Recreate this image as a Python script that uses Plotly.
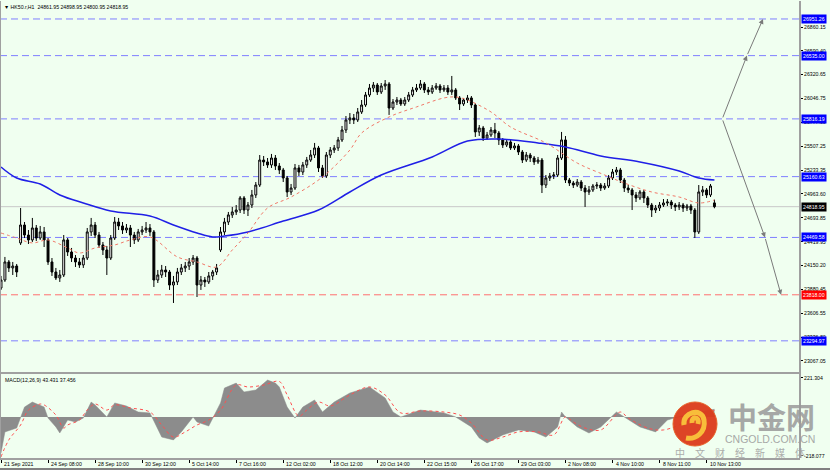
import plotly.graph_objects as go

# ---------------- DATA ----------------
close = [23986, 24191, 24123, 24145, 24077, 24611, 24497, 24441, 24577, 24463,
         24532, 24441, 24191, 24077, 24009, 24043, 24441, 24304, 24236, 24191,
         24157, 24236, 24532, 24611, 24497, 24384, 24327, 24236, 24463, 24645,
         24600, 24554, 24577, 24497, 24441, 24532, 24554, 24577, 24532, 23986,
         24043, 24100, 24077, 23929, 23964, 24077, 24123, 24145, 24191, 24236,
         23929, 23986, 23964, 24032, 24077, 24123, 24532, 24645, 24725, 24759,
         24781, 24918, 24781, 24838, 24952, 25065, 25349, 25327, 25293, 25372,
         25281, 25236, 25145, 24986, 25031, 25259, 25213, 25293, 25349, 25406,
         25486, 25259, 25168, 25406, 25463, 25486, 25577, 25690, 25804, 25827,
         25804, 25895, 25974, 26088, 26167, 26201, 26122, 26190, 26213, 25940,
         26008, 26031, 25986, 26031, 26088, 26145, 26167, 26213, 26145, 26122,
         26167, 26190, 26145, 26167, 26122, 26145, 26054, 25986, 26031, 26054,
         25974, 25668, 25713, 25599, 25634, 25690, 25656, 25577, 25520, 25554,
         25486, 25509, 25440, 25349, 25406, 25372, 25327, 25349, 25065, 25145,
         25168, 25179, 25372, 25577, 25122, 25088, 25065, 25099, 25031, 24986,
         25009, 25054, 25065, 25031, 25054, 25145, 25213, 25236, 25122, 25031,
         25009, 24952, 24918, 24986, 24918, 24838, 24781, 24804, 24838, 24861,
         24872, 24838, 24816, 24838, 24804, 24827, 24781, 24532, 24986, 25009,
         24952, 25054, 24818.95]

high = [24032, 24248, 24213, 24191, 24168, 24804, 24645, 24554, 24691, 24611,
        24600, 24588, 24463, 24236, 24123, 24100, 24497, 24463, 24350, 24270,
        24236, 24270, 24577, 24691, 24645, 24532, 24418, 24373, 24497, 24702,
        24691, 24645, 24622, 24611, 24532, 24566, 24600, 24645, 24622, 24554,
        24100, 24157, 24145, 24100, 24032, 24123, 24168, 24191, 24236, 24270,
        24259, 24032, 24020, 24077, 24100, 24168, 24588, 24691, 24759, 24816,
        24838, 24940, 24940, 24872, 25009, 25099, 25406, 25395, 25372, 25418,
        25406, 25315, 25259, 25168, 25077, 25304, 25293, 25327, 25384, 25463,
        25543, 25509, 25293, 25440, 25497, 25520, 25611, 25736, 25849, 25883,
        25872, 25940, 26031, 26122, 26213, 26235, 26224, 26224, 26258, 26235,
        26042, 26065, 26054, 26065, 26122, 26179, 26213, 26258, 26235, 26179,
        26201, 26224, 26213, 26201, 26201, 26304, 26167, 26076, 26054, 26088,
        26076, 25997, 25747, 25736, 25668, 25724, 25770, 25679, 25599, 25577,
        25577, 25543, 25531, 25463, 25440, 25429, 25395, 25384, 25372, 25179,
        25202, 25213, 25406, 25668, 25622, 25145, 25111, 25133, 25122, 25065,
        25054, 25077, 25099, 25088, 25088, 25179, 25247, 25270, 25259, 25145,
        25065, 25031, 24986, 25009, 25009, 24940, 24861, 24838, 24872, 24906,
        24906, 24895, 24861, 24872, 24861, 24850, 24850, 24804, 25065, 25054,
        25031, 25077, 24898.95]

low = [23873, 23964, 24077, 24043, 24020, 24384, 24463, 24395, 24418, 24429,
       24441, 24361, 24157, 24032, 23986, 23964, 24020, 24259, 24191, 24134,
       24123, 24123, 24213, 24486, 24463, 24350, 24270, 24043, 24213, 24441,
       24554, 24509, 24520, 24361, 24395, 24418, 24497, 24520, 24486, 23907,
       23952, 24009, 24020, 23873, 23725, 23929, 24043, 24077, 24100, 24157,
       23793, 23873, 23907, 23941, 23986, 24043, 24304, 24497, 24611, 24691,
       24725, 24747, 24736, 24713, 24804, 24918, 25043, 25281, 25259, 25259,
       25236, 25190, 25099, 24929, 24952, 25009, 25168, 25179, 25259, 25327,
       25372, 25213, 25145, 25145, 25372, 25429, 25452, 25554, 25656, 25758,
       25758, 25781, 25872, 25952, 26065, 26122, 26088, 26099, 26145, 25861,
       25917, 25974, 25963, 25963, 26008, 26065, 26122, 26145, 26110, 26088,
       26099, 26145, 26110, 26122, 26088, 26088, 26031, 25917, 25963, 25997,
       25940, 25611, 25622, 25565, 25577, 25611, 25599, 25520, 25486, 25497,
       25463, 25463, 25406, 25315, 25327, 25327, 25293, 25304, 24974, 25031,
       25111, 25133, 25156, 25349, 25088, 25054, 25031, 25043, 24997, 24816,
       24952, 24986, 25020, 24997, 25009, 25031, 25122, 25179, 25088, 24986,
       24974, 24781, 24872, 24895, 24861, 24804, 24702, 24747, 24770, 24816,
       24827, 24793, 24770, 24781, 24759, 24770, 24736, 24463, 24509, 24940,
       24918, 24929, 24800.95]

# opening prices that gap away from the previous close (session breaks)
gap_open = {0: 23895, 5: 24407, 56: 24327, 182: 24861.95}

# moving averages (read at sampled bars)
ma_blue_bar = [0, 4, 10, 15, 21, 28, 38, 44, 50, 54, 57, 63, 72, 81, 89, 97, 110,
               119, 127, 137, 144, 153, 163, 173, 178, 182]
ma_blue = [25270, 25145, 25077, 24952, 24861, 24770, 24713, 24611, 24520, 24475,
           24486, 24532, 24656, 24781, 24986, 25179, 25384, 25565, 25588, 25543,
           25497, 25395, 25327, 25224, 25145, 25122]

ma_red_bar = [0, 4, 8, 12, 17, 20, 24, 29, 33, 38, 45, 50, 55, 59, 63, 68, 74, 82,
              89, 92, 99, 106, 113, 116, 119, 125, 130, 139, 147, 154, 159, 166,
              173, 178, 182]
ma_red = [24520, 24463, 24407, 24441, 24350, 24293, 24350, 24384, 24441, 24475,
          24248, 24191, 24134, 24327, 24520, 24804, 24929, 25156, 25463, 25656,
          25838, 25952, 26054, 26065, 26031, 25895, 25724, 25543, 25315, 25179,
          25088, 24986, 24929, 24861, 24895]

# MACD(12,26,9)
macd_bar = [0, 1, 4, 5, 6, 8, 10, 11, 12, 14, 15, 17, 19, 21, 23, 24, 27, 29, 32, 35,
            38, 40, 41, 44, 46, 49, 50, 53, 56, 57, 60, 62, 65, 68, 70, 71, 73, 75, 77, 80,
            82, 85, 89, 94, 98, 100, 102, 107, 113, 116, 118, 120, 122, 124, 128, 132, 136, 139, 142, 143,
            144, 147, 150, 153, 157, 159, 163, 167, 170, 176, 178, 182]
macd_main = [-203, -84, -62, 0, 56, 84, 68, 56, -6, -56, -90, -17, -28, -6, 84, 68, 0, 79, 62, 28,
             23, -62, -113, -129, -84, 0, -28, -51, 79, 163, 191, 141, 152, 208, 191, 169, 56, -6, 56, 96,
             28, 84, 135, 169, 107, 28, 0, 39, 23, 0, -28, -56, -118, -146, -101, -73, -84, -113, -56, 28,
             0, -56, -90, -56, 28, 0, -56, -84, -17, 20, 30, 43.431]
sig_bar = [0, 2, 5, 7, 10, 11, 14, 16, 17, 20, 22, 24, 27, 29, 33, 38, 41, 44, 47, 50,
           53, 56, 60, 63, 67, 71, 73, 76, 78, 81, 84, 89, 94, 98, 102, 107, 113, 117, 120, 124,
           128, 132, 137, 141, 144, 146, 149, 153, 158, 160, 165, 169, 176, 182]
macd_signal = [-225, -129, -45, 39, 73, 68, 11, -62, -45, -17, 39, 73, 39, 68, 51, 28, -45, -113, -84, -45,
               -17, 39, 180, 169, 180, 200, 124, 5, 39, 84, 62, 124, 169, 124, 23, 34, 28, 11, -34, -129,
               -113, -84, -84, -101, 0, -28, -62, -73, 28, -6, -62, -73, -17, 37.456]

# horizontal levels
levels_blue = [26951.26, 26535.00, 25816.19, 25160.63, 24469.58, 23294.97]
level_red = 23818.00
last_price = 24818.95

# projection paths (bar, price)
proj_up_bar = [184, 190.3, 194.4]
proj_up_price = [25816.19, 26535.00, 26951.26]
proj_dn_bar = [184, 194.9, 199.0]
proj_dn_price = [25816.19, 24469.58, 23818.00]

price_ticks = [26860.15, 26590.40, 26320.65, 26046.75, 25777.00, 25507.25, 25233.35,
               24963.60, 24693.85, 24419.95, 24150.20, 23880.45, 23606.55, 23336.80, 23067.05]
macd_ticks = [221.304, -218.077]
time_labels = ["21 Sep 2021", "24 Sep 08:00", "28 Sep 10:00", "30 Sep 12:00", "5 Oct 14:00",
               "7 Oct 16:00", "12 Oct 02:00", "18 Oct 12:00", "20 Oct 14:00", "22 Oct 15:00",
               "26 Oct 17:00", "29 Oct 03:00", "2 Nov 08:00", "4 Nov 10:00", "8 Nov 11:00",
               "10 Nov 13:00"]
label_step = 12

# ---------------- FIGURE ----------------
bars = list(range(len(close)))
opens = [gap_open.get(i, close[i - 1] if i > 0 else close[0]) for i in bars]

BG = '#f0fff0'
FONT = 'Liberation Sans, Arial, sans-serif'
FS = 5.2
XR = [-0.255, 203.83]

fig = go.Figure()

fig.add_trace(go.Scatter(x=ma_blue_bar, y=ma_blue, mode='lines', line=dict(color='#1f1fe6', width=1.5, shape='spline'),
                         xaxis='x', yaxis='y', hoverinfo='skip'))
fig.add_trace(go.Scatter(x=ma_red_bar, y=ma_red, mode='lines', line=dict(color='#f07868', width=1, dash='dot', shape='spline'),
                         xaxis='x', yaxis='y', hoverinfo='skip'))
fig.add_trace(go.Candlestick(x=bars, open=opens, high=high, low=low, close=close,
                             increasing=dict(line=dict(color='#000000', width=1), fillcolor='#ffffff'),
                             decreasing=dict(line=dict(color='#000000', width=1), fillcolor='#000000'),
                             whiskerwidth=0, xaxis='x', yaxis='y'))

fig.add_trace(go.Scatter(x=macd_bar, y=macd_main, mode='lines', fill='tozeroy', fillcolor='#8c8c8c',
                         line=dict(color='#8c8c8c', width=0.5), xaxis='x2', yaxis='y2', hoverinfo='skip'))
fig.add_trace(go.Scatter(x=sig_bar, y=macd_signal, mode='lines', line=dict(color='#ff5050', width=1, dash='dot', shape='spline'),
                         xaxis='x2', yaxis='y2', hoverinfo='skip'))

shapes = []
for lv in levels_blue:
    shapes.append(dict(type='line', xref='paper', yref='y', x0=0, x1=1, y0=lv, y1=lv,
                       line=dict(color='#7f7fff', width=1, dash='7px,4px'), layer='below'))
shapes.append(dict(type='line', xref='paper', yref='y', x0=0, x1=1, y0=level_red, y1=level_red,
                   line=dict(color='#ff7070', width=1, dash='7px,4px'), layer='below'))
shapes.append(dict(type='line', xref='paper', yref='y', x0=0, x1=1, y0=last_price, y1=last_price,
                   line=dict(color='#c8c8c8', width=1), layer='below'))

# frame lines (plot area spans 0..800 px wide, 1..458 px tall)
def px(xp):
    return xp / 800.0

def py(yp):
    return (458.0 - yp) / 457.0

shapes.append(dict(type='line', xref='paper', yref='paper', x0=0, x1=1, y0=py(373), y1=py(373),
                   line=dict(color='#a0a0a0', width=2)))
shapes.append(dict(type='line', xref='paper', yref='paper', x0=px(0.5), x1=px(0.5), y0=0, y1=1,
                   line=dict(color='#a0a0a0', width=1)))
shapes.append(dict(type='line', xref='paper', yref='paper', x0=1, x1=1, y0=0, y1=1,
                   line=dict(color='#a0a0a0', width=2)))
shapes.append(dict(type='line', xref='paper', yref='paper', x0=0, x1=1.0375, y0=py(469), y1=py(469),
                   line=dict(color='#808080', width=2)))

# watermark logo
cx, cy, r = 695, 424, 22
shapes.append(dict(type='circle', xref='paper', yref='paper', x0=px(cx - r), x1=px(cx + r),
                   y0=py(cy + r), y1=py(cy - r), fillcolor='#dc3b1c', line=dict(color='#e85a20', width=1),
                   opacity=0.95))
def P(dx, dy):
    return f"{px(cx + dx):.5f},{py(cy + dy):.5f}"
swirl = (f"M {P(-11, 1)} C {P(-13, -12)} {P(7, -17)} {P(9, -4)} C {P(11, 8)} {P(1, 16)} {P(-9, 14)} "
         f"M {P(-3, -1)} C {P(-4, -8)} {P(5, -8)} {P(3, 0)}")
shapes.append(dict(type='path', xref='paper', yref='paper', path=swirl,
                   line=dict(color='#f8bd3a', width=5)))

annotations = []
# chart title
annotations.append(dict(xref='paper', yref='paper', x=px(2), y=py(2), xanchor='left', yanchor='top',
                        text='▼ HK50.r,H1  24861.95 24898.95 24800.95 24818.95', showarrow=False,
                        font=dict(family=FONT, size=FS, color='black')))
annotations.append(dict(xref='paper', yref='paper', x=px(3), y=py(375), xanchor='left', yanchor='top',
                        text='MACD(12,26,9) 43.431 37.456', showarrow=False,
                        font=dict(family=FONT, size=FS, color='black')))
# time labels
for k, lab in enumerate(time_labels):
    annotations.append(dict(xref='x2', yref='paper', x=k * label_step, y=py(459), xanchor='left', yanchor='top',
                            xshift=1, text=lab, showarrow=False, font=dict(family=FONT, size=FS, color='black')))
# level boxes on the price scale
for lv in levels_blue:
    annotations.append(dict(xref='paper', yref='y', x=1, y=lv, xanchor='left', yanchor='middle', xshift=1,
                            text=f'{lv:.2f}', showarrow=False, bgcolor='#0000ff', borderpad=1,
                            font=dict(family=FONT, size=FS, color='white')))
annotations.append(dict(xref='paper', yref='y', x=1, y=level_red, xanchor='left', yanchor='middle', xshift=1,
                        text=f'{level_red:.2f}', showarrow=False, bgcolor='#ff0000', borderpad=1,
                        font=dict(family=FONT, size=FS, color='white')))
annotations.append(dict(xref='paper', yref='y', x=1, y=last_price, xanchor='left', yanchor='middle', xshift=1,
                        text=f'{last_price:.2f}', showarrow=False, bgcolor='#000000', borderpad=1,
                        font=dict(family=FONT, size=FS, color='white')))
# projection arrows
for bx, pr in ((proj_up_bar, proj_up_price), (proj_dn_bar, proj_dn_price)):
    for j in range(1, len(bx)):
        annotations.append(dict(xref='x', yref='y', axref='x', ayref='y', x=bx[j], y=pr[j],
                                ax=bx[j - 1], ay=pr[j - 1], text='', showarrow=True, arrowhead=2,
                                arrowsize=1, arrowwidth=1, arrowcolor='#7a7a7a'))
# watermark text
annotations.append(dict(xref='paper', yref='paper', x=px(771), y=py(416), xanchor='center', yanchor='middle',
                        text='<b>中金网</b>', showarrow=False, opacity=0.85,
                        font=dict(family='Noto Sans CJK SC', size=29, color='#9a9a9a')))
annotations.append(dict(xref='paper', yref='paper', x=px(770), y=py(439), xanchor='center', yanchor='middle',
                        text='CNGOLD.COM.CN', showarrow=False, opacity=0.85,
                        font=dict(family='Liberation Sans, Arial', size=10.5, color='#9a9a9a')))
annotations.append(dict(xref='paper', yref='paper', x=px(740), y=py(452), xanchor='center', yanchor='middle',
                        text='中　文　财　经　新　媒　体', showarrow=False, opacity=0.85,
                        font=dict(family='Noto Sans CJK SC', size=10, color='#a0a0a0')))

fig.update_layout(
    width=830, height=470,
    margin=dict(l=0, r=30, t=1, b=12),
    paper_bgcolor=BG, plot_bgcolor=BG,
    showlegend=False,
    font=dict(family=FONT, size=FS, color='black'),
    xaxis=dict(domain=[0, 1], range=XR, anchor='y', showticklabels=False, showgrid=False,
               zeroline=False, showline=False, rangeslider=dict(visible=False), ticks=''),
    yaxis=dict(domain=[py(372), 1], range=[22940.95, 27155.5], side='right', anchor='x',
               tickvals=price_ticks, ticktext=[f'{v:.2f}' for v in price_ticks], ticks='outside',
               ticklen=2, tickcolor='#000000', showgrid=False, zeroline=False, showline=False,
               automargin=False, tickfont=dict(family=FONT, size=FS, color='black')),
    xaxis2=dict(domain=[0, 1], range=XR, anchor='y2', tickvals=[k * label_step for k in range(len(time_labels))],
                ticks='outside', ticklen=3, tickcolor='#000000', showticklabels=False, showline=True,
                linecolor='#a0a0a0', linewidth=2, showgrid=False, zeroline=False),
    yaxis2=dict(domain=[0, py(374)], range=[-231.0, 242.2], side='right', anchor='x2',
                tickvals=macd_ticks, ticktext=['221.304', '-218.077'], ticks='outside', ticklen=2,
                tickcolor='#000000', showgrid=False, zeroline=False, showline=False, automargin=False,
                tickfont=dict(family=FONT, size=FS, color='black')),
    shapes=shapes,
    annotations=annotations,
)

fig.write_html("out.html", config={'displayModeBar': False},
               post_script="document.body.style.margin='0px';document.body.style.overflow='hidden';")
